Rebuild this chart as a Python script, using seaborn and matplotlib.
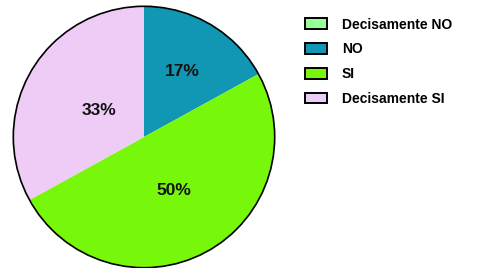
import numpy as np
import matplotlib
matplotlib.use("Agg")
import matplotlib.pyplot as plt
import seaborn as sns
from matplotlib.patches import Patch, Circle

categories = ["Decisamente NO", "NO", "SI", "Decisamente SI"]
values = [0, 17, 50, 33]
colors = ["#99FF99", "#1196B3", "#77F80A", "#EECCF5"]
label_dist = [0.5, 0.58, 0.47, 0.40]

sns.set_theme(style="white")
plt.rcParams['font.family'] = ['Liberation Sans', 'DejaVu Sans']

fig = plt.figure(figsize=(4.91, 2.68), dpi=100)
ax = fig.add_axes([12/491, 1 - (137+132)/268, 264/491, 264/268])

wedges, texts, autotexts = ax.pie(
    values, colors=colors, startangle=90, counterclock=False,
    autopct=lambda p: f"{p:.0f}%" if p > 0 else "",
    wedgeprops=dict(linewidth=0),
    textprops=dict(fontsize=12.5, fontweight="bold", color="#111111"),
)
for w, t, d in zip(wedges, autotexts, label_dist):
    ang = np.deg2rad((w.theta1 + w.theta2) / 2)
    t.set_position((d * np.cos(ang), d * np.sin(ang)))
ax.add_patch(Circle((0, 0), 1, fill=False, edgecolor="black", linewidth=1.2))
ax.set_xlim(-1.01, 1.01)
ax.set_ylim(-1.01, 1.01)
ax.set_aspect("auto")
ax.axis("off")

handles = [Patch(facecolor=c, edgecolor="black", linewidth=1.4) for c in colors]
leg = fig.legend(handles, categories, loc="upper left", bbox_to_anchor=(292/491, 1 - 5/268),
                 frameon=False, prop=dict(size=10, weight="bold"),
                 handlelength=1.6, handleheight=0.8, handletextpad=1.1, labelspacing=0.78)
for t in leg.get_texts():
    t.set_color("black")

fig.savefig("out.png", dpi=100)
